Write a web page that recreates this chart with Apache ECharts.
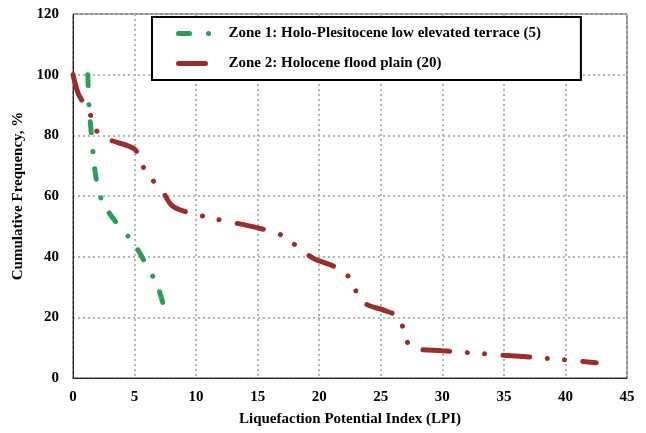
<!DOCTYPE html>
<html><head><meta charset="utf-8">
<script src="https://cdn.jsdelivr.net/npm/echarts@6/dist/echarts.min.js"></script>
<style>html,body{margin:0;padding:0;background:#fff}#c{width:646px;height:433px}</style>
</head><body><div id="c"></div>
<script>
var zone1Name = 'Zone 1: Holo-Plesitocene low elevated terrace (5)';
var zone2Name = 'Zone 2: Holocene flood plain (20)';
var zone1LPI = [1.2, 1.3, 1.5, 1.8, 2.2, 3.0, 4.0, 5.0, 6.0, 6.9, 7.6];
var zone1Freq = [100, 90, 80, 68, 60, 54, 49, 44, 37, 30, 20];
var zone2LPI = [0, 0.4, 0.8, 1.5, 2.0, 3.0, 5.0, 5.5, 6.3, 7.2, 8.0, 9.0, 11.5, 15.0, 17.0, 18.3, 19.5, 20.8, 22.0, 22.8, 23.2, 24.0, 25.5, 26.5, 26.9, 27.5, 30.0, 35.0, 40.0, 42.5];
var zone2Freq = [100, 94, 91, 86, 81, 78.5, 75.5, 71, 66, 62, 57, 55, 52.5, 49.5, 47, 43, 39.5, 37.5, 35, 31, 26, 24, 22, 20, 15, 10, 9, 7.5, 6, 5];
var xTicks = {min: 0, max: 45, step: 5};
var yTicks = {min: 0, max: 120, step: 20};

function pairs(xs, ys){ return xs.map(function(x,i){ return [x, ys[i]]; }); }

var font = '"Liberation Serif", "Times New Roman", serif';
var chart = echarts.init(document.getElementById('c'), null, {renderer:'canvas'});
chart.setOption({
  animation: false,
  backgroundColor: '#fff',
  grid: {left: 73, right: 19, top: 14, bottom: 55, show: true, borderColor: '#222', borderWidth: 1},
  legend: {
    orient: 'vertical', left: 152, top: 17,
    backgroundColor: '#fff', borderColor: '#000', borderWidth: 2,
    padding: [9, 40, 9, 24], itemGap: 15, itemWidth: 35, itemHeight: 10,
    itemStyle: {opacity: 0},
    lineStyle: {width: 5, cap: 'round'},
    textStyle: {fontFamily: font, fontWeight: 'bold', fontSize: 15, color: '#000', padding: [0,0,0,10]},
    data: [zone1Name, zone2Name]
  },
  xAxis: {
    type: 'value', min: xTicks.min, max: xTicks.max, interval: xTicks.step,
    name: 'Liquefaction Potential Index (LPI)', nameLocation: 'middle', nameGap: 34,
    nameTextStyle: {fontFamily: font, fontWeight: 'bold', fontSize: 15, color: '#000'},
    axisLine: {lineStyle: {color: '#222', width: 1}}, axisTick: {show: false},
    axisLabel: {fontFamily: font, fontWeight: 'bold', fontSize: 15, color: '#000', margin: 12},
    splitLine: {show: true, lineStyle: {color: '#b5b5b5', type: [2, 3], width: 2}}
  },
  yAxis: {
    type: 'value', min: yTicks.min, max: yTicks.max, interval: yTicks.step,
    name: 'Cumulative Frequency, %', nameLocation: 'middle', nameGap: 42,
    nameTextStyle: {fontFamily: font, fontWeight: 'bold', fontSize: 15, color: '#000'},
    axisLine: {show: true, lineStyle: {color: '#222', width: 1}}, axisTick: {show: false},
    axisLabel: {fontFamily: font, fontWeight: 'bold', fontSize: 15, color: '#000', margin: 14},
    splitLine: {show: true, lineStyle: {color: '#b5b5b5', type: [2, 3], width: 2}}
  },
  series: [
    {
      name: zone1Name, type: 'line', data: pairs(zone1LPI, zone1Freq), showSymbol: false, symbol: 'none',
      smooth: 0.3, color: '#2E9B5B',
      lineStyle: {color: '#2E9B5B', width: 5, cap: 'round', type: [11, 19, 0.1, 17]}
    },
    {
      name: zone2Name, type: 'line', data: pairs(zone2LPI, zone2Freq), showSymbol: false, symbol: 'none',
      smooth: 0.3, color: '#9B2E2B',
      lineStyle: {color: '#9B2E2B', width: 5, cap: 'round', type: [27, 17.5, 0.1, 17, 0.1, 18.4]}
    }
  ]
});
</script></body></html>
